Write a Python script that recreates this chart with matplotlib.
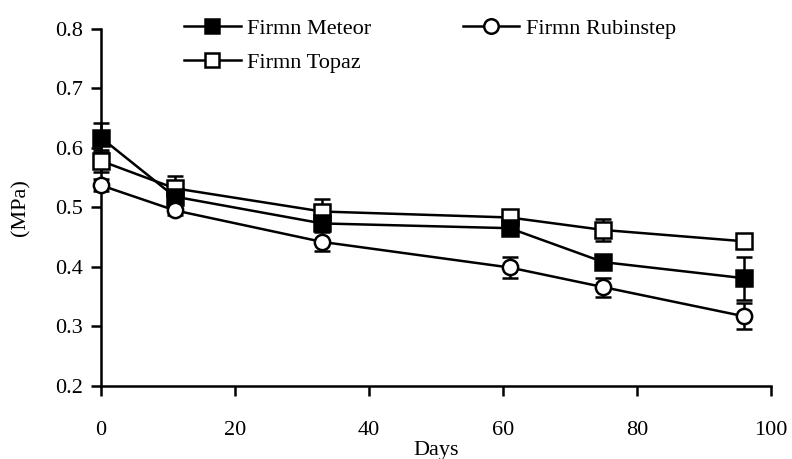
import matplotlib
matplotlib.use("Agg")
import matplotlib.pyplot as plt

days = [0, 11, 33, 61, 75, 96]
meteor = [0.617, 0.518, 0.473, 0.465, 0.408, 0.381]
meteor_err = [0.024, 0.008, 0.008, 0.008, 0.008, 0.036]
rubinstep = [0.537, 0.495, 0.442, 0.399, 0.366, 0.317]
rubinstep_err = [0.010, 0.008, 0.016, 0.017, 0.016, 0.022]
topaz = [0.578, 0.532, 0.493, 0.483, 0.462, 0.443]
topaz_err = [0.018, 0.020, 0.021, 0.008, 0.019, 0.012]

xticks = [0, 20, 40, 60, 80, 100]
yticks = [0.2, 0.3, 0.4, 0.5, 0.6, 0.7, 0.8]

plt.rcParams['font.family'] = ['Liberation Serif', 'DejaVu Serif']
FS = 16
fig = plt.figure(figsize=(7.92, 4.59), dpi=100)
ax = fig.add_axes([101/792, 1-386/459, 670/792, (386-28.7)/459])

common = dict(color='black', lw=1.8, markersize=11, markeredgewidth=1.8,
              capsize=5.5, capthick=1.8, elinewidth=1.8, clip_on=False)
h_topaz = ax.errorbar(days, topaz, yerr=topaz_err, marker='s', markerfacecolor='white',
                      markeredgecolor='black', label='Firmn Topaz', zorder=3, **common)
h_meteor = ax.errorbar(days, meteor, yerr=meteor_err, marker='s', markerfacecolor='black',
                       markeredgecolor='black', label='Firmn Meteor', zorder=4, **common)
h_rub = ax.errorbar(days, rubinstep, yerr=rubinstep_err, marker='o', markerfacecolor='white',
                    markeredgecolor='black', label='Firmn Rubinstep', zorder=5, **common)

ax.set_xlim(0, 100)
ax.set_ylim(0.2, 0.8)
ax.set_xticks(xticks)
ax.set_yticks(yticks)
ax.set_yticklabels([f"{v:.1f}" for v in yticks])
for s in ['top', 'right']:
    ax.spines[s].set_visible(False)
for s in ['left', 'bottom']:
    ax.spines[s].set_linewidth(1.8)
ax.tick_params(axis='both', direction='out', length=7, width=1.8, labelsize=FS)
ax.tick_params(axis='y', pad=6)
ax.tick_params(axis='x', pad=18)
ax.set_xlabel('Days', fontsize=FS, labelpad=0.8)
ax.set_ylabel('(MPa)', fontsize=FS, labelpad=18)

leg = fig.legend([h_meteor[0], h_topaz[0], h_rub[0]],
                 ['Firmn Meteor', 'Firmn Topaz', 'Firmn Rubinstep'],
                 ncol=2, loc='upper left', bbox_to_anchor=(184/792, 1-18/459),
                 frameon=False, fontsize=FS, handlelength=2.55, handletextpad=0.3,
                 columnspacing=4.1, labelspacing=0.63, borderpad=0, borderaxespad=0,
                 markerscale=0.95)

fig.savefig('out.png', dpi=100)
